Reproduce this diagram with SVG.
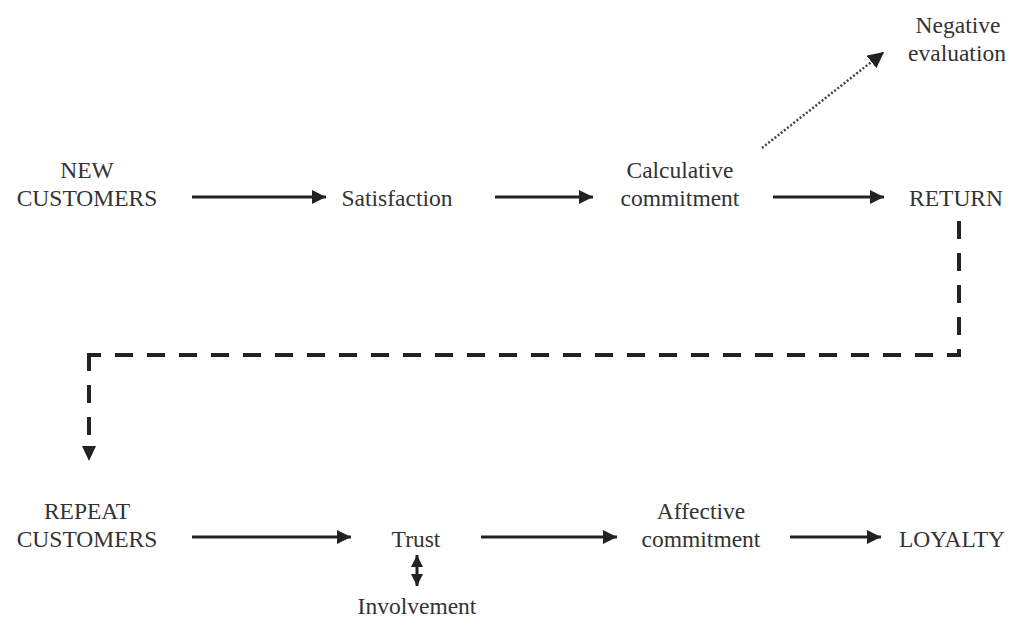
<svg xmlns="http://www.w3.org/2000/svg" width="1014" height="643" viewBox="0 0 1014 643">
<style>
text{font-family:"Liberation Serif","Times New Roman",serif;font-size:23.5px;fill:#333;text-anchor:middle}
.a{stroke:#222;stroke-width:3;fill:none}
.d{stroke:#222;stroke-width:4;fill:none;stroke-dasharray:18 14}
.o{stroke:#444;stroke-width:2.5;fill:none;stroke-dasharray:2 2}
</style>
<defs>
<marker id="ah" viewBox="0 0 10 10" refX="10" refY="5" markerWidth="16" markerHeight="14" markerUnits="userSpaceOnUse" orient="auto-start-reverse"><path d="M0,0L10,5L0,10z" fill="#222"/></marker>
<marker id="as" viewBox="0 0 10 10" refX="10" refY="5" markerWidth="12" markerHeight="14" markerUnits="userSpaceOnUse" orient="auto-start-reverse"><path d="M0,0L10,5L0,10z" fill="#222"/></marker>
<marker id="ad" viewBox="0 0 10 10" refX="10" refY="5" markerWidth="16" markerHeight="16" markerUnits="userSpaceOnUse" orient="auto"><path d="M0,0L10,5L0,10z" fill="#222"/></marker>
</defs>
<rect width="1014" height="643" fill="#fff"/>
<g id="new-customers"><text x="87" y="178">NEW</text><text x="87" y="206">CUSTOMERS</text></g>
<g id="satisfaction"><text x="397" y="206">Satisfaction</text></g>
<g id="calculative"><text x="680" y="178">Calculative</text><text x="680" y="206">commitment</text></g>
<g id="return"><text x="956" y="206">RETURN</text></g>
<g id="negative"><text x="958" y="33">Negative</text><text x="957" y="61">evaluation</text></g>
<g id="repeat-customers"><text x="87" y="519">REPEAT</text><text x="87" y="547">CUSTOMERS</text></g>
<g id="trust"><text x="416" y="547">Trust</text></g>
<g id="affective"><text x="701" y="519">Affective</text><text x="701" y="547">commitment</text></g>
<g id="loyalty"><text x="952" y="547">LOYALTY</text></g>
<g id="involvement"><text x="417" y="614">Involvement</text></g>
<g id="connectors">
<line class="a" x1="192" y1="197" x2="326" y2="197" marker-end="url(#ah)"/>
<line class="a" x1="495" y1="197" x2="593" y2="197" marker-end="url(#ah)"/>
<line class="a" x1="773" y1="197" x2="884" y2="197" marker-end="url(#ah)"/>
<line class="o" x1="762" y1="148" x2="884" y2="52" marker-end="url(#ad)"/>
<path class="d" d="M959,221V355H89"/>
<path class="d" d="M89,353V437"/>
<path d="M82,446L96,446L89,461z" fill="#222"/>
<line class="a" x1="192" y1="537" x2="351" y2="537" marker-end="url(#ah)"/>
<line class="a" x1="481" y1="537" x2="617" y2="537" marker-end="url(#ah)"/>
<line class="a" x1="790" y1="537" x2="881" y2="537" marker-end="url(#ah)"/>
<line class="a" x1="417" y1="555" x2="417" y2="586" marker-start="url(#as)" marker-end="url(#as)"/>
</g>
</svg>
